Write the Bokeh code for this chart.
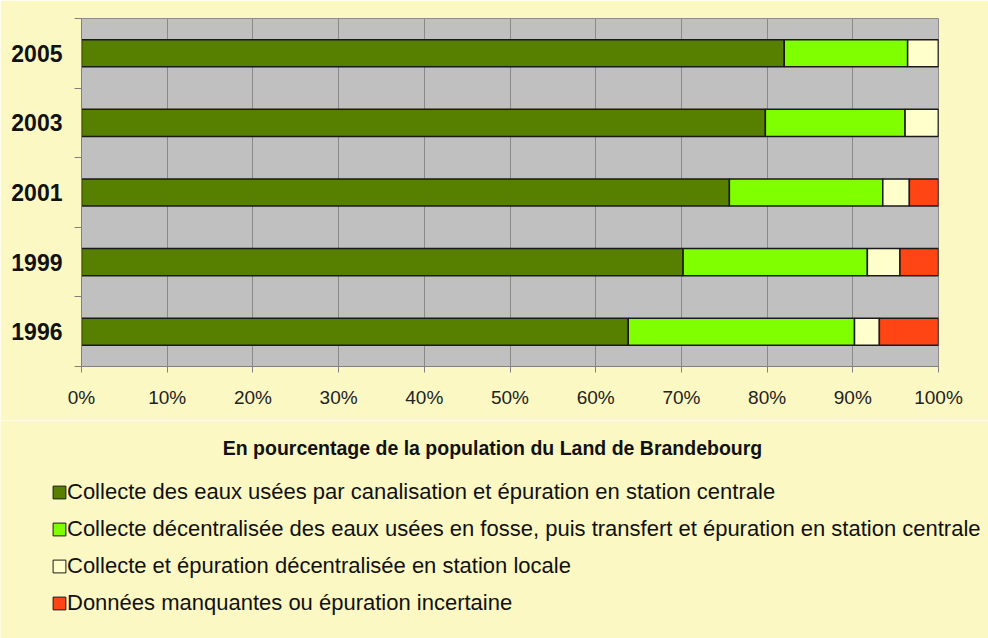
from bokeh.plotting import figure
from bokeh.layouts import column
from bokeh.models import (ColumnDataSource, Range1d, FixedTicker, PrintfTickFormatter,
                          Legend, LegendItem, Label)
from bokeh.embed import file_html
from bokeh.resources import INLINE

years = ["1996", "1999", "2001", "2003", "2005"]
central = [63.8, 70.2, 75.6, 79.8, 82.0]
fosse = [26.4, 21.5, 17.9, 16.3, 14.4]
locale = [2.9, 3.8, 3.1, 3.9, 3.6]
manquantes = [6.9, 4.5, 3.4, 0.0, 0.0]

labels = [
    "Collecte des eaux usées par canalisation et épuration en station centrale",
    "Collecte décentralisée des eaux usées en fosse, puis transfert et épuration en station centrale",
    "Collecte et épuration décentralisée en station locale",
    "Données manquantes ou épuration incertaine",
]
colors = ["#577F00", "#80FF00", "#FFFFCC", "#FF4514"]
x_ticks = [0, 10, 20, 30, 40, 50, 60, 70, 80, 90, 100]
x_title = "En pourcentage de la population du Land de Brandebourg"

ypos = [i + 0.5 for i in range(len(years))]
src = ColumnDataSource(dict(y=ypos, central=central, fosse=fosse,
                            locale=locale, manquantes=manquantes))

BG = "#FBF8C3"
FONT = "Liberation Sans"
W = 988
H1 = 420
H2 = 638 - H1

p = figure(width=W, height=H1, output_backend="svg", toolbar_location=None,
           x_range=Range1d(0, 100), y_range=Range1d(0, len(years)),
           min_border_left=81, min_border_right=50, min_border_top=18,
           min_border_bottom=H1 - 366)
p.background_fill_color = "#C0C0C0"
p.border_fill_color = BG
p.outline_line_color = "#8C8C8C"

renderers = p.hbar_stack(["central", "fosse", "locale", "manquantes"], y="y",
                         height=0.39, source=src, color=colors,
                         line_color="#1A1A1A", line_width=1.5)
for r, c in zip(renderers, colors):
    r.glyph.fill_color = c
    r.glyph.line_color = "#1A1A1A"

# x axis
xa = p.xaxis[0]
xa.ticker = FixedTicker(ticks=x_ticks)
xa.formatter = PrintfTickFormatter(format="%d%%")
xa.major_label_text_font = FONT
xa.major_label_text_font_size = "19px"
xa.major_label_text_color = "#222222"
xa.major_tick_out = 6
xa.major_tick_in = 0
xa.minor_tick_out = 0
xa.minor_tick_in = 0
xa.major_label_standoff = 14
xa.axis_line_color = "#808080"
xa.major_tick_line_color = "#808080"

# y axis
ya = p.yaxis[0]
ya.ticker = FixedTicker(ticks=ypos, minor_ticks=list(range(len(years) + 1)))
ya.major_label_overrides = {y: lab for y, lab in zip(ypos, years)}
ya.major_label_text_font = FONT
ya.major_label_text_font_style = "bold"
ya.major_label_text_font_size = "23px"
ya.major_label_text_color = "#111111"
ya.major_tick_out = 0
ya.major_tick_in = 0
ya.minor_tick_out = 7
ya.minor_tick_in = 0
ya.minor_tick_line_color = "#808080"
ya.axis_line_color = "#808080"
ya.major_label_standoff = 12

p.xgrid.grid_line_color = "#8A8A8A"
p.xgrid.grid_line_width = 1
p.ygrid.grid_line_color = None

# lower panel: axis title + legend (page pixel coordinates)
q = figure(width=W, height=H2, output_backend="svg", toolbar_location=None,
           x_range=Range1d(0, W), y_range=Range1d(638, H1),
           min_border=0, min_border_left=0, min_border_right=0,
           min_border_top=0, min_border_bottom=0)
q.axis.visible = False
q.grid.visible = False
q.outline_line_color = None
q.background_fill_color = BG
q.border_fill_color = BG

q.add_layout(Label(x=492, y=447, text=x_title, text_align="center",
                   text_baseline="middle", text_font=FONT, text_font_style="bold",
                   text_font_size="19.5px", text_color="#111111"))

nan = float("nan")
dummies = []
for c in colors:
    dummies.append(q.hbar(y=[nan], left=[nan], right=[nan], height=1, fill_color=c,
                          line_color="#1A1A1A", line_width=1))

legend = Legend(items=[LegendItem(label=l, renderers=[r]) for l, r in zip(labels, dummies)],
                location=(51, 22), orientation="vertical")
legend.background_fill_alpha = 0
legend.border_line_color = None
legend.padding = 0
legend.margin = 0
legend.glyph_width = 16
legend.glyph_height = 16
legend.label_height = 26
legend.spacing = 11
legend.label_standoff = 0
legend.label_text_font = FONT
legend.label_text_font_size = "22px"
legend.label_text_color = "#111111"
q.add_layout(legend, "center")

layout = column(p, column(q, spacing=0), spacing=0)
open("out.html", "w").write(file_html(layout, INLINE))
